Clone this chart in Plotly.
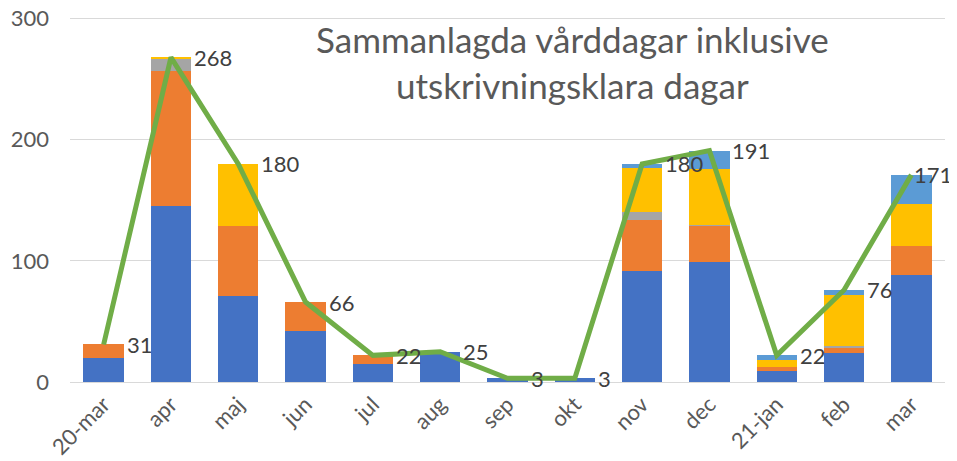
import plotly.graph_objects as go

categories = ["20-mar", "apr", "maj", "jun", "jul", "aug", "sep", "okt", "nov", "dec", "21-jan", "feb", "mar"]
s_blue = [20, 145, 71, 42, 15, 25, 3, 3, 92, 99, 9, 24, 88]
s_orange = [11, 112, 58, 24, 7, 0, 0, 0, 42, 30, 3, 4, 24]
s_gray = [0, 10, 0, 0, 0, 0, 0, 0, 6, 1, 0, 2, 0]
s_yellow = [0, 1, 51, 0, 0, 0, 0, 0, 37, 46, 6, 42, 35]
s_lightblue = [0, 0, 0, 0, 0, 0, 0, 0, 3, 15, 4, 4, 24]
totals = [31, 268, 180, 66, 22, 25, 3, 3, 180, 191, 22, 76, 171]
y_ticks = [0, 100, 200, 300]
title_text = "Sammanlagda vårddagar inklusive<br>utskrivningsklara dagar"

FONT = "Lato"
fig = go.Figure()
for vals, col in [(s_blue, "#4472C4"), (s_orange, "#ED7D31"), (s_gray, "#A5A5A5"),
                  (s_yellow, "#FFC000"), (s_lightblue, "#5B9BD5")]:
    fig.add_trace(go.Bar(x=categories, y=vals, marker=dict(color=col, line=dict(width=0)),
                         hoverinfo="skip"))

fig.add_trace(go.Scatter(x=categories, y=totals, mode="lines",
                         line=dict(color="#70AD47", width=5)))

n = len(categories)
for i, (c, t) in enumerate(zip(categories, totals)):
    fig.add_annotation(x=c, y=t, text=str(t), showarrow=False, xanchor="left",
                       yanchor="middle", xshift=(1 if i == n - 1 else 21),
                       font=dict(family=FONT, size=22, color="#404040"))

fig.add_annotation(xref="paper", yref="paper", x=0.574, y=0.996, text=title_text,
                   showarrow=False, xanchor="center", yanchor="top",
                   font=dict(family=FONT, size=35, color="#595959"))

fig.update_layout(
    width=949, height=453,
    barmode="stack", bargap=0.4,
    showlegend=False,
    plot_bgcolor="white", paper_bgcolor="white",
    margin=dict(l=62, r=12, t=7, b=79, autoexpand=False),
    font=dict(family=FONT, color="#595959"),
    xaxis=dict(type="category", range=[-0.5, 12.5], tickangle=-45, automargin=False,
               tickfont=dict(size=22, color="#595959"), showgrid=False,
               showline=True, linecolor="#D9D9D9", linewidth=1, ticks=""),
    yaxis=dict(range=[0, 303], tickvals=y_ticks, showgrid=True, gridcolor="#D9D9D9",
               gridwidth=1, zeroline=False, tickfont=dict(size=22, color="#595959"),
               ticks="", ticklen=0, automargin=False, ticklabeloverflow="allow"),
)
fig.update_yaxes(ticklabelstandoff=20)
fig.write_html("out.html")
